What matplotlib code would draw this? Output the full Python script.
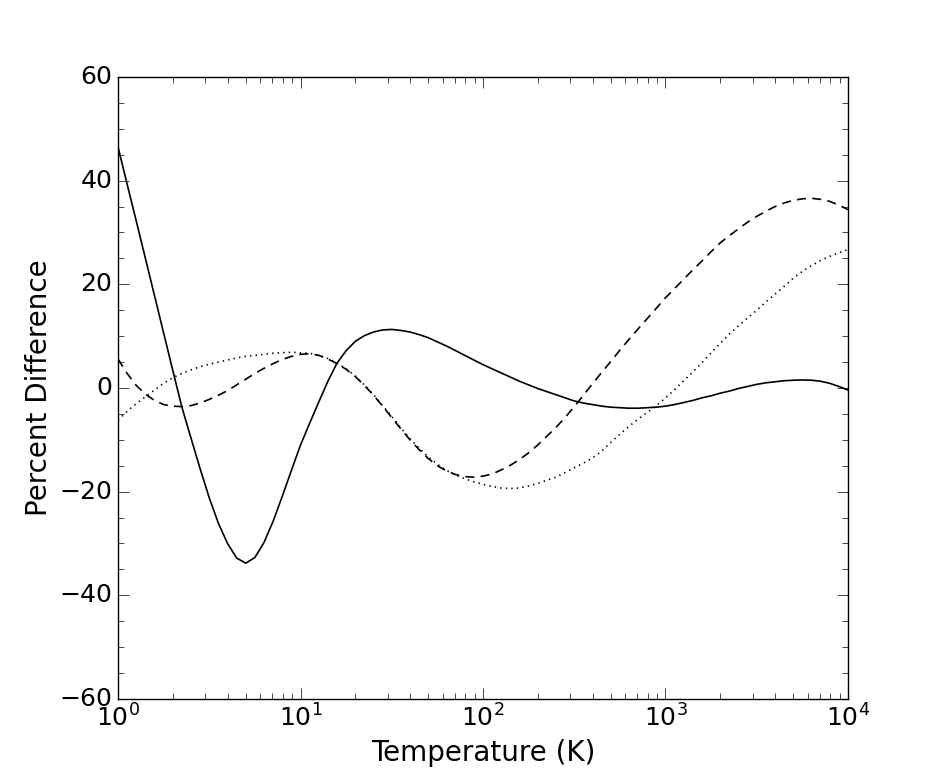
import matplotlib
matplotlib.use('Agg')
import matplotlib.pyplot as plt
import numpy as np

plt.style.use('classic')

# temperature grid, 0.05 decade steps from 1 K to 1e4 K
log_T = np.arange(0, 81) / 20.0
T = 10.0 ** log_T

solid = [46.5, 39.3, 32.2, 25.0, 17.8, 10.6, 3.4, -3.7, -9.7, -15.6,
         -21.2, -26.1, -30.0, -32.8, -33.8, -32.7, -29.8, -25.7, -20.9, -15.9,
         -11.0, -6.8, -2.7, 1.3, 4.8, 7.2, 9.0, 10.1, 10.8, 11.2,
         11.3, 11.1, 10.8, 10.3, 9.7, 8.9, 8.1, 7.2, 6.3, 5.4,
         4.5, 3.7, 2.9, 2.1, 1.3, 0.6, -0.1, -0.7, -1.3, -1.9,
         -2.5, -2.9, -3.2, -3.5, -3.7, -3.8, -3.9, -3.9, -3.8, -3.7,
         -3.5, -3.2, -2.8, -2.4, -1.9, -1.5, -1.0, -0.6, -0.1, 0.3,
         0.7, 1.0, 1.2, 1.4, 1.5, 1.55, 1.5, 1.3, 0.9, 0.3,
         -0.4]

dashed = [5.6, 2.8, 0.5, -1.2, -2.4, -3.2, -3.5, -3.6, -3.4, -2.9,
          -2.2, -1.4, -0.5, 0.6, 1.7, 2.8, 3.8, 4.7, 5.5, 6.1,
          6.5, 6.6, 6.3, 5.6, 4.7, 3.6, 2.2, 0.5, -1.4, -3.5,
          -5.7, -7.9, -10.0, -11.9, -13.6, -15.0, -16.0, -16.7, -17.1, -17.2,
          -17.0, -16.6, -15.8, -14.9, -13.8, -12.5, -11.0, -9.3, -7.6, -5.7,
          -3.6, -1.4, 0.8, 3.0, 5.1, 7.3, 9.4, 11.4, 13.4, 15.4,
          17.4, 19.2, 21.0, 22.8, 24.5, 26.3, 28.0, 29.4, 30.7, 32.0,
          33.1, 34.1, 35.0, 35.7, 36.2, 36.5, 36.6, 36.4, 36.0, 35.3,
          34.4]

dotted = [-6.2, -4.5, -3.0, -1.7, -0.4, 0.9, 2.0, 2.8, 3.5, 4.1,
          4.6, 5.0, 5.4, 5.8, 6.1, 6.3, 6.5, 6.7, 6.8, 6.9,
          6.8, 6.7, 6.3, 5.7, 4.8, 3.7, 2.3, 0.6, -1.3, -3.4,
          -5.5, -7.7, -9.8, -11.6, -13.3, -14.7, -15.9, -16.8, -17.5, -18.1,
          -18.6, -19.0, -19.3, -19.4, -19.3, -18.9, -18.4, -17.8, -17.2, -16.3,
          -15.4, -14.5, -13.5, -12.2, -10.5, -8.9, -7.4, -6.0, -4.7, -3.4,
          -1.9, -0.3, 1.4, 3.1, 4.9, 6.8, 8.6, 10.4, 12.0, 13.5,
          15.0, 16.6, 18.1, 19.6, 21.2, 22.5, 23.6, 24.6, 25.4, 26.1,
          26.7]

fig = plt.figure(figsize=(9.42, 7.77), dpi=100, facecolor='white')
ax = fig.add_axes([0.1253, 0.1004, 0.7749, 0.8005])

ax.plot(T, solid, 'k-', lw=1.2)
ax.plot(T, dashed, 'k--', lw=1.2, dashes=(6.5, 4.5))
ax.plot(T, dotted, 'k:', lw=1.2)

ax.set_xscale('log')
ax.set_xlim(1, 1e4)
ax.set_ylim(-60, 60)
ax.set_yticks([-60, -40, -20, 0, 20, 40, 60])
ax.yaxis.set_minor_locator(matplotlib.ticker.MultipleLocator(5))

ax.tick_params(axis='both', which='major', labelsize=18, length=8)
ax.tick_params(axis='both', which='minor', length=4)

ax.set_xlabel('Temperature (K)', fontsize=20)
ax.set_ylabel('Percent Difference', fontsize=20)

fig.savefig('out.png', dpi=100, facecolor='white')
